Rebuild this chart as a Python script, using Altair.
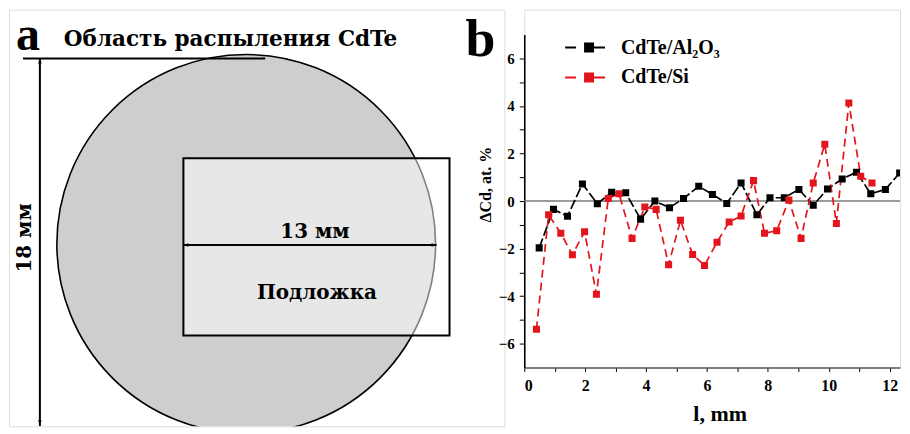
import altair as alt
import pandas as pd

FONT = "Liberation Serif"
WIDE_FONT = "DejaVu Serif"

# ---------------- panel b data ----------------
series_names = ["CdTe/Al₂O₃", "CdTe/Si"]
series_colors = ["#000000", "#e3141c"]
series_dash = [[10, 3], [8, 5]]

black_x = [0.49, 0.96, 1.42, 1.91, 2.40, 2.87, 3.33, 3.82, 4.29, 4.77, 5.23, 5.73, 6.18,
           6.65, 7.12, 7.64, 8.07, 8.54, 9.02, 9.49, 9.96, 10.44, 10.91, 11.38, 11.86, 12.33, 12.80]
black_y = [-1.97, -0.35, -0.64, 0.72, -0.11, 0.37, 0.35, -0.76, 0.00, -0.28, 0.11, 0.62, 0.28,
           -0.10, 0.76, -0.58, 0.14, 0.14, 0.49, -0.18, 0.51, 0.93, 1.21, 0.31, 0.49, 1.18, 0.10]

red_x = [0.40, 0.80, 1.20, 1.58, 1.98, 2.37, 2.76, 3.11, 3.54, 3.96, 4.33, 4.74, 5.13, 5.53,
         5.92, 6.33, 6.73, 7.12, 7.53, 7.89, 8.29, 8.69, 9.09, 9.49, 9.87, 10.25, 10.66, 11.05, 11.42]
red_y = [-5.39, -0.58, -1.35, -2.26, -1.29, -3.92, 0.11, 0.31, -1.57, -0.25, -0.35, -2.68, -0.81, -2.25,
         -2.71, -1.73, -0.88, -0.63, 0.86, -1.35, -1.25, 0.04, -1.57, 0.76, 2.39, -0.94, 4.12, 1.04, 0.76]

x_domain = [0, 12.34]
y_domain = [-7, 7]
x_tick_values = list(range(0, 13))
y_tick_values = list(range(-6, 7))

# ---------------- panel a diagram (figure units) ----------------
circle_center_x = [246]
circle_center_y = [243]
circle_diameter = 380
seg_x = [22, 39, 183]
seg_x2 = [265, 39, 437]
seg_y = [57, 57, 244]
seg_y2 = [57, 426, 244]
rect_x, rect_x2, rect_y, rect_y2 = [183], [450], [157], [335]
head_x = [39, 39, 183, 437]
head_y = [57, 425, 244, 244]
head_shape = ["M0,0L0.7,2L-0.7,2Z", "M0,0L0.7,-2L-0.7,-2Z", "M0,0L2,-0.7L2,0.7Z", "M0,0L-2,-0.7L-2,0.7Z"]

panel_text = ["a", "b"]
panel_x = [27, 481]
panel_y = [48, 54]
panel_size = [48, 54]

label_text = ["13 мм", "Подложка"]
label_x = [315, 317]
label_y = [237, 298]
title_text = ["Область распыления CdTe"]
title_x = [63]
title_y = [44]
side_text = ["18 мм"]
side_x = [30]
side_y = [237]

AX_W = 497
AX_H = 418
xa = alt.Scale(domain=[8, 8 + AX_W], nice=False, zero=False)
ya = alt.Scale(domain=[8, 8 + AX_H], nice=False, zero=False, reverse=True)


def pos():
    return dict(x=alt.X("x:Q", scale=xa, axis=None), y=alt.Y("y:Q", scale=ya, axis=None))


circle = alt.Chart(pd.DataFrame({"x": circle_center_x, "y": circle_center_y})).mark_point(
    shape="circle", fill="#cecece", stroke="#000000", strokeWidth=1.6, size=circle_diameter ** 2,
    opacity=1, fillOpacity=1, strokeOpacity=1, clip=True
).encode(**pos())

rect = alt.Chart(pd.DataFrame({"x": rect_x, "x2": rect_x2, "y": rect_y, "y2": rect_y2})).mark_rect(
    fill="#ffffff", fillOpacity=0.5, stroke="#000000", strokeWidth=2
).encode(x2="x2:Q", y2="y2:Q", **pos())

segs = alt.Chart(pd.DataFrame({"x": seg_x, "x2": seg_x2, "y": seg_y, "y2": seg_y2})).mark_rule(
    color="#000000", strokeWidth=2, clip=True
).encode(x2="x2:Q", y2="y2:Q", **pos())

heads = alt.Chart(pd.DataFrame({"x": head_x, "y": head_y, "s": head_shape})).mark_point(
    filled=True, color="#000000", size=25, opacity=1, clip=True
).encode(shape=alt.Shape("s:N", scale=None), **pos())

panel_letters = alt.Chart(pd.DataFrame({"x": panel_x, "y": panel_y, "t": panel_text, "sz": panel_size})).mark_text(
    font=FONT, fontWeight="bold", baseline="alphabetic", align="center", color="#000000"
).encode(text="t:N", size=alt.Size("sz:Q", scale=None, legend=None), **pos())

labels = alt.Chart(pd.DataFrame({"x": label_x, "y": label_y, "t": label_text})).mark_text(
    font=WIDE_FONT, fontWeight="bold", baseline="alphabetic", align="center", fontSize=20, color="#000000"
).encode(text="t:N", **pos())

title_a = alt.Chart(pd.DataFrame({"x": title_x, "y": title_y, "t": title_text})).mark_text(
    font=WIDE_FONT, fontWeight="bold", baseline="alphabetic", align="left", fontSize=21.6, color="#000000"
).encode(text="t:N", **pos())

side = alt.Chart(pd.DataFrame({"x": side_x, "y": side_y, "t": side_text})).mark_text(
    font=WIDE_FONT, fontWeight="bold", baseline="alphabetic", align="center", fontSize=20, angle=270,
    color="#000000"
).encode(text="t:N", **pos())

panel_a = alt.layer(circle, rect, segs, heads, panel_letters, labels, title_a, side).properties(
    width=AX_W, height=AX_H)

# ---------------- panel b ----------------
rows = []
for n, xs, ys in [(series_names[0], black_x, black_y), (series_names[1], red_x, red_y)]:
    for xv, yv in zip(xs, ys):
        rows.append({"l": xv, "d": yv, "series": n})
df = pd.DataFrame(rows)

PB_W = 377
PB_H = 359
xb = alt.Scale(domain=x_domain, nice=False, zero=False)
yb = alt.Scale(domain=y_domain, nice=False, zero=False, range=[PB_H, 25])

x_axis = alt.Axis(values=x_tick_values, labelExpr="datum.value % 2 == 0 ? datum.label : ''",
                  title="l, mm", grid=False, tickSize=4, tickColor="#000000", domainColor="#5a5a5a",
                  domainWidth=1.6, labelFont=FONT, labelFontSize=16, labelFontWeight="bold",
                  labelColor="#000000", labelPadding=6, titleFont=FONT, titleFontSize=22,
                  titleFontWeight="bold", titleColor="#000000", titleBaseline="alphabetic", titleY=53,
                  titleX=196, labelOverlap=False)
y_axis = alt.Axis(values=y_tick_values, labelExpr="datum.value % 2 == 0 ? datum.label : ''",
                  title="ΔCd, at. %", grid=False, tickSize=5, tickColor="#000000", domainColor="#000000",
                  domainWidth=1.6, labelFont=FONT, labelFontSize=15, labelFontWeight="bold",
                  labelColor="#000000", labelPadding=5, titleFont=FONT, titleFontSize=16,
                  titleFontWeight="bold", titleColor="#000000", titleX=-31, titleY=175,
                  labelOverlap=False)

legend_symbol = "M-2.4,0H-1.3M0.4,0H1.6M-0.4,-0.4H0.4V0.4H-0.4Z"
leg = alt.Legend(title=None, orient="none", legendX=571, legendY=27, symbolType=legend_symbol,
                 symbolSize=400, symbolStrokeWidth=2, labelFont=FONT, labelFontSize=20,
                 labelFontWeight="bold", labelColor="#000000", labelOffset=21, rowPadding=9)
color_scale = alt.Scale(domain=series_names, range=series_colors)

zero = alt.Chart(pd.DataFrame({"d": [0]})).mark_rule(color="#7a7a7a", strokeWidth=1.6).encode(
    y=alt.Y("d:Q", scale=yb, axis=y_axis))

line_layers = []
for n, dash in zip(series_names, series_dash):
    line_layers.append(
        alt.Chart(df).transform_filter(alt.datum.series == n).mark_line(
            strokeDash=dash, strokeWidth=1.7, clip=True
        ).encode(x=alt.X("l:Q", scale=xb, axis=x_axis), y=alt.Y("d:Q", scale=yb, axis=y_axis),
                 stroke=alt.Stroke("series:N", scale=color_scale, legend=leg))
    )

pts = alt.Chart(df).mark_point(shape="square", filled=True, size=50, opacity=1, clip=True).encode(
    x=alt.X("l:Q", scale=xb, axis=x_axis), y=alt.Y("d:Q", scale=yb, axis=y_axis),
    fill=alt.Fill("series:N", scale=color_scale, legend=leg))

panel_b = alt.layer(zero, *line_layers, pts).properties(width=PB_W, height=PB_H)

chart = alt.hconcat(panel_a, panel_b, spacing=20, bounds="flush").properties(
    padding=0
).configure_view(stroke=None).configure(font=FONT)

chart.save("out.html", embed_options={"renderer": "svg", "actions": False})
